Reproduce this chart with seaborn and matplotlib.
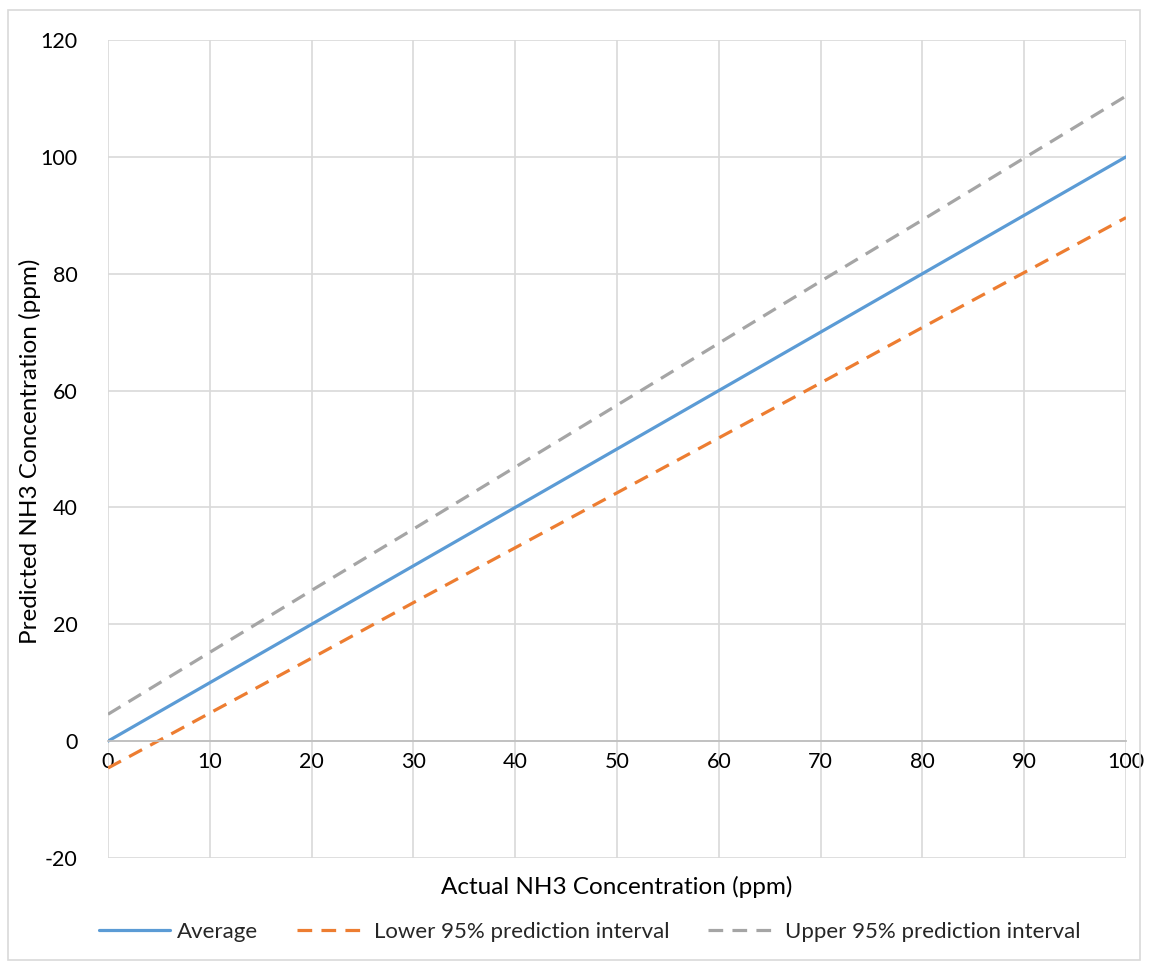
import matplotlib.pyplot as plt
import numpy as np
import pandas as pd
import seaborn as sns
from matplotlib.patches import Rectangle

# ------------------------------ data

actual_ppm = [0, 10, 20, 30, 40, 50, 60, 70, 80, 90, 100]
average = [0, 10, 20, 30, 40, 50, 60, 70, 80, 90, 100]
lower_95 = [-4.6, 4.8, 14.2, 23.7, 33.1, 42.5, 51.9, 61.3, 70.8, 80.2, 89.6]
upper_95 = [4.6, 15.2, 25.8, 36.3, 46.9, 57.5, 68.1, 78.7, 89.2, 99.8, 110.4]

series_names = ["Average", "Lower 95% prediction interval", "Upper 95% prediction interval"]
x_ticks = list(range(0, 101, 10))
y_ticks = list(range(-20, 121, 20))

# ------------------------------ style

BLUE = "#5b9bd5"
ORANGE = "#ed7d31"
GREY = "#a5a5a5"
GRID = "#d9d9d9"
AXIS = "#bfbfbf"
TEXT = "#000000"

sns.set_style("white")
plt.rcParams["font.family"] = ["Lato", "DejaVu Sans"]
plt.rcParams["axes.unicode_minus"] = False

DPI = 100
W, H = 1149, 966

df = pd.DataFrame({"actual": actual_ppm, series_names[0]: average,
                   series_names[1]: lower_95, series_names[2]: upper_95})
long_df = df.melt(id_vars="actual", var_name="series", value_name="predicted")

fig = plt.figure(figsize=(W / DPI, H / DPI), dpi=DPI)
ax = fig.add_axes([108 / W, 1 - 858 / H, (1126 - 108) / W, (858 - 40) / H])

sns.lineplot(
    data=long_df, x="actual", y="predicted", hue="series", style="series",
    palette={series_names[0]: BLUE, series_names[1]: ORANGE, series_names[2]: GREY},
    dashes={series_names[0]: "", series_names[1]: (4.6, 2.9), series_names[2]: (4.6, 2.9)},
    linewidth=2.3, ax=ax, legend=True,
)

ax.set_xlim(0, 100)
ax.set_ylim(-20, 120)
ax.set_xticks(x_ticks)
ax.set_yticks(y_ticks)
ax.grid(True, color=GRID, linewidth=1.2)
ax.set_axisbelow(True)

for side in ["top", "right", "left"]:
    ax.spines[side].set_visible(False)
ax.spines["bottom"].set_position(("data", 0))
ax.spines["bottom"].set_color(AXIS)
ax.spines["bottom"].set_linewidth(1.3)
ax.tick_params(axis="both", length=0, labelsize=15.5, colors=TEXT, pad=8)
ax.tick_params(axis="y", pad=22)
ax.set_xlabel("")
ax.set_ylabel("")

fig.text(617 / W, 1 - 887 / H, "Actual NH3 Concentration (ppm)", ha="center", va="center",
         fontsize=17.5, color=TEXT)
fig.text(30 / W, 1 - 451 / H, "Predicted NH3 Concentration (ppm)", ha="center", va="center",
         rotation=90, fontsize=17.5, color=TEXT)

handles, labels = ax.get_legend_handles_labels()
ax.legend(handles, labels, loc="center", bbox_to_anchor=(590 / W, 1 - 932 / H),
          bbox_transform=fig.transFigure, ncol=3, frameon=False, fontsize=16,
          handlelength=3.2, handletextpad=0.27, columnspacing=1.75)

fig.patches.append(Rectangle((8 / W, 1 - 960 / H), (1140 - 8) / W, (960 - 10) / H,
                             transform=fig.transFigure, fill=False, edgecolor=GRID,
                             linewidth=1.2))

fig.savefig("out.png", dpi=DPI)
plt.close(fig)
